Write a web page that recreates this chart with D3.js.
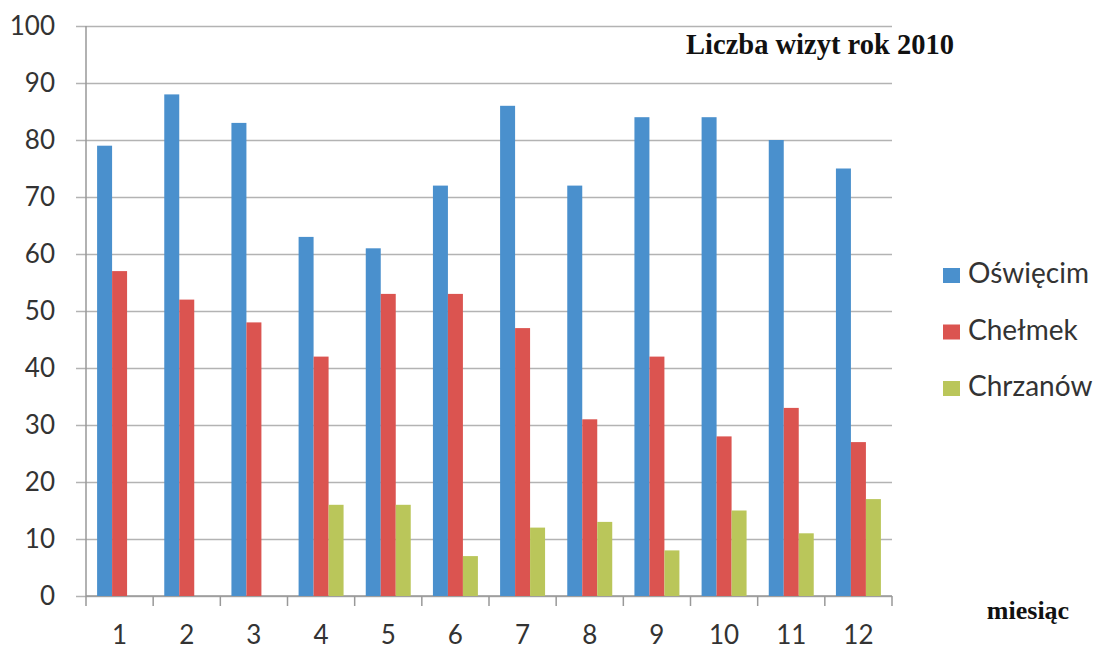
<!DOCTYPE html>
<html>
<head>
<meta charset="utf-8">
<script src="https://cdn.jsdelivr.net/npm/d3@7"></script>
<style>
  body { margin: 0; background: #fff; }
  .axis text { font-family: Lato, "Open Sans", sans-serif; fill: #333; }
  .legend text { font-family: Lato, "Open Sans", sans-serif; fill: #333; }
  .title, .axis-label { font-family: "Liberation Serif", "DejaVu Serif", serif; font-weight: bold; fill: #111; }
</style>
</head>
<body>
<svg width="1098" height="650"></svg>
<script>
const months = ['1','2','3','4','5','6','7','8','9','10','11','12'];
const series = ['Oświęcim','Chełmek','Chrzanów'];
const colors = ['#4a90cd','#db5450','#bac65a'];
const oswiecim = [79, 88, 83, 63, 61, 72, 86, 72, 84, 84, 80, 75];
const chelmek = [57, 52, 48, 42, 53, 53, 47, 31, 42, 28, 33, 27];
const chrzanow = [0, 0, 0, 16, 16, 7, 12, 13, 8, 15, 11, 17];
const yTicks = [0,10,20,30,40,50,60,70,80,90,100];

const svg = d3.select('svg');

// rows for grouped bars
const data = months.map((m, i) => ({
    month: m,
    values: [oswiecim[i], chelmek[i], chrzanow[i]]
}));

const margin = { top: 26, left: 86, right: 206, bottom: 54 };
const width = +svg.attr('width');
const height = +svg.attr('height');
const innerWidth = width - margin.left - margin.right;
const innerHeight = height - margin.top - margin.bottom;

const x0 = d3.scaleBand()
    .domain(months)
    .range([0, innerWidth]);

const x1 = d3.scaleBand()
    .domain(series)
    .range([0, x0.bandwidth()])
    .paddingOuter(0.74);

const yScale = d3.scaleLinear()
    .domain([0, 100])
    .range([innerHeight, 0]);

const color = d3.scaleOrdinal().domain(series).range(colors);

const g = svg.append('g')
    .attr('transform', `translate(${margin.left},${margin.top})`);

// y axis with gridlines
const yAxisG = g.append('g')
    .attr('class', 'axis')
    .call(d3.axisLeft(yScale).tickValues(yTicks).tickSize(-innerWidth).tickPadding(20));
yAxisG.select('.domain').remove();
yAxisG.selectAll('.tick line')
    .attr('x1', -10)
    .attr('stroke', '#b3b3b3')
    .attr('stroke-width', 1.5);
yAxisG.selectAll('.tick text')
    .attr('font-size', 26)
    .attr('x', -31);

// vertical axis line
g.append('line')
    .attr('x1', 0).attr('x2', 0)
    .attr('y1', 0).attr('y2', innerHeight)
    .attr('stroke', '#999')
    .attr('stroke-width', 1.5);

// x axis: ticks on category boundaries
const xAxisG = g.append('g')
    .attr('class', 'axis')
    .attr('transform', `translate(0,${innerHeight})`);
xAxisG.append('line')
    .attr('x1', 0).attr('x2', innerWidth)
    .attr('stroke', '#999').attr('stroke-width', 1.5);
xAxisG.selectAll('.sep')
    .data(months.concat(['end']))
    .enter().append('line')
    .attr('class', 'sep')
    .attr('x1', (d, i) => i * x0.step())
    .attr('x2', (d, i) => i * x0.step())
    .attr('y1', 0).attr('y2', 10)
    .attr('stroke', '#999').attr('stroke-width', 1.5);
xAxisG.selectAll('.lbl')
    .data(months)
    .enter().append('text')
    .attr('class', 'lbl')
    .attr('x', d => x0(d) + x0.bandwidth() / 2)
    .attr('y', 41)
    .attr('text-anchor', 'middle')
    .attr('dominant-baseline', 'middle')
    .attr('font-size', 26)
    .text(d => d);

// bars
const groups = g.selectAll('.group')
    .data(data)
    .enter().append('g')
    .attr('class', 'group')
    .attr('transform', d => `translate(${x0(d.month)},0)`);

groups.selectAll('rect')
    .data(d => d.values.map((v, i) => ({ key: series[i], value: v })))
    .enter().append('rect')
    .attr('x', d => x1(d.key))
    .attr('width', x1.bandwidth())
    .attr('y', d => yScale(d.value))
    .attr('height', d => innerHeight - yScale(d.value))
    .attr('fill', d => color(d.key));

// title
svg.append('text')
    .attr('class', 'title')
    .attr('x', 820)
    .attr('y', 54)
    .attr('text-anchor', 'middle')
    .attr('font-size', 28.5)
    .text('Liczba wizyt rok 2010');

// x axis label
svg.append('text')
    .attr('class', 'axis-label')
    .attr('x', 1028)
    .attr('y', 619)
    .attr('text-anchor', 'middle')
    .attr('font-size', 26)
    .text('miesiąc');

// legend
const legend = svg.append('g')
    .attr('class', 'legend')
    .attr('transform', 'translate(943,276)');
const items = legend.selectAll('g')
    .data(series)
    .enter().append('g')
    .attr('transform', (d, i) => `translate(0,${i * 56.5})`);
items.append('rect')
    .attr('x', 0).attr('y', -8)
    .attr('width', 17).attr('height', 15)
    .attr('fill', d => color(d));
items.append('text')
    .attr('x', 25)
    .attr('y', 0)
    .attr('dominant-baseline', 'middle')
    .attr('font-size', 28)
    .text(d => d);
</script>
</body>
</html>
